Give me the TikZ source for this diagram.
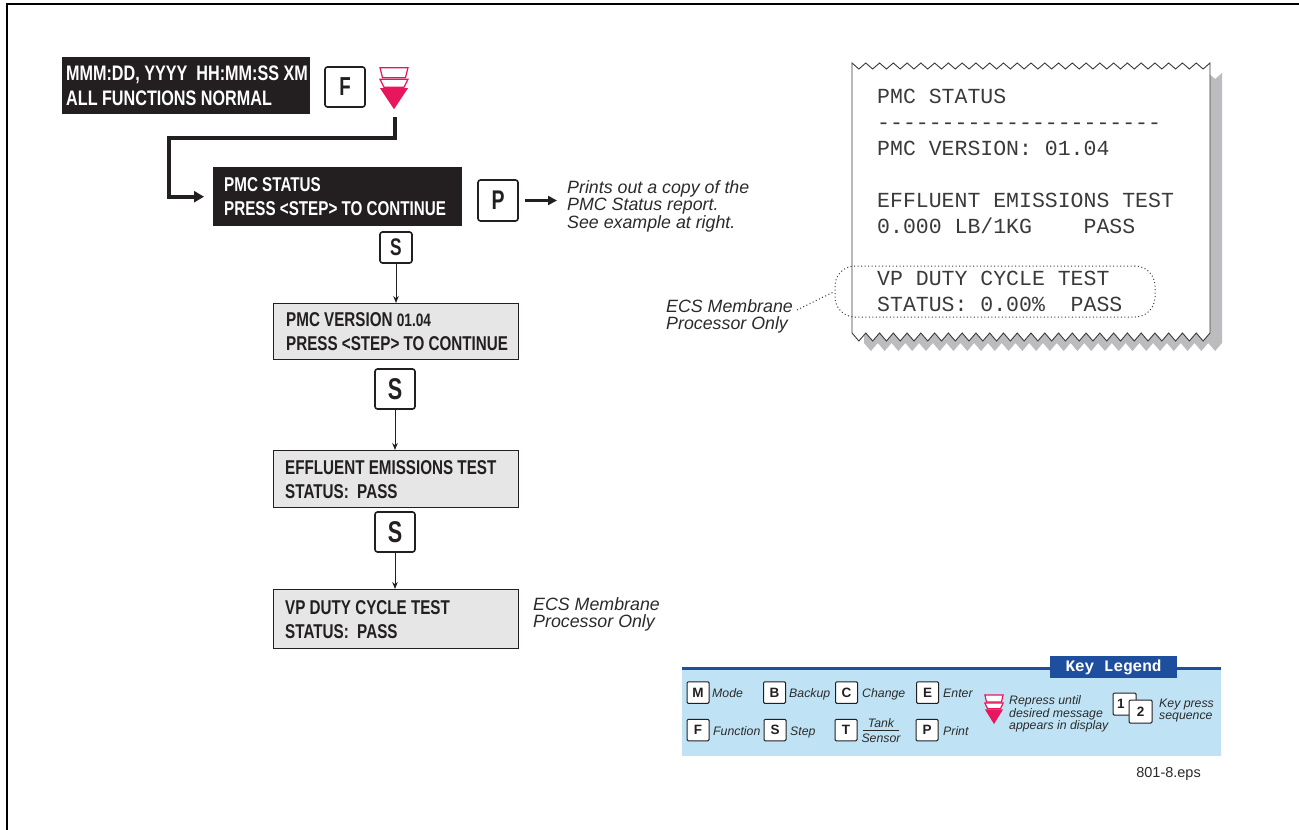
\documentclass[tikz,border=0pt]{standalone}
\usepackage{fontspec}
\setmainfont{Liberation Sans}
\setmonofont{Liberation Mono}
\newfontfamily\condA[FakeStretch=0.77]{Liberation Sans}
\newfontfamily\condB[FakeStretch=0.76]{Liberation Sans}
\newfontfamily\condK[FakeStretch=0.72]{Liberation Sans}
\usetikzlibrary{arrows.meta}
\definecolor{ink}{HTML}{231F20}
\definecolor{pinkred}{HTML}{E8175D}
\definecolor{screengray}{HTML}{E6E6E6}
\definecolor{legblue}{HTML}{BFE3F5}
\definecolor{darkblue}{HTML}{1E4E9E}
\definecolor{paperink}{HTML}{3A3A3A}
\definecolor{shadowgray}{HTML}{BCBCBE}
\definecolor{labelgray}{HTML}{2B2B2B}
\tikzset{
  repress/.pic={
    \draw[pinkred, line width=1.2pt, fill=white] (-14,0) -- (14,0) -- (11.5,10) -- (-11.5,10) -- cycle;
    \draw[pinkred, line width=1.2pt, fill=white] (-14,11.5) -- (14,11.5) -- (10,19.5) -- (-10,19.5) -- cycle;
    \fill[pinkred] (-14,20.5) -- (14,20.5) -- (0,41.5) -- cycle;
  }
}
\begin{document}
\begin{tikzpicture}[x=1pt,y=-1pt,
  screenfont/.style={font=\condB\bfseries\fontsize{20}{24}\selectfont},
  darkscreen/.style={fill=ink, draw=none, inner sep=0pt, anchor=north west},
  lightscreen/.style={fill=screengray, draw=ink, line width=1.4pt, inner sep=0pt, anchor=north west},
  scrtext/.style={anchor=west, align=left, inner sep=0pt, screenfont},
  keybox/.style={draw=ink, line width=1.6pt, rounded corners=2.5pt, fill=white, inner sep=0pt, text=ink,
     font=\condK\bfseries\fontsize{#1}{#1}\selectfont},
  lkey/.style={draw=ink, line width=1pt, rounded corners=1.2pt, fill=white, inner sep=0pt, text=ink,
     minimum width=22pt, minimum height=21.5pt, font=\bfseries\fontsize{13.5}{13.5}\selectfont},
  ltxt/.style={anchor=base west, inner sep=0pt, text=labelgray, font=\itshape\fontsize{12.3}{12.3}\selectfont},
  note/.style={anchor=base west, inner sep=0pt, text=labelgray, font=\itshape\fontsize{17.8}{17.8}\selectfont},
  rcpt/.style={anchor=base west, inner sep=0pt, text=paperink, font=\ttfamily\fontsize{21.5}{21.5}\selectfont},
  thinarrow/.style={draw=ink, line width=0.9pt, -{Stealth[length=7pt,width=5.5pt]}},
  fatline/.style={draw=ink, line width=4pt, -{Triangle[length=10pt,width=11pt]}},
  pline/.style={draw=ink, line width=3pt, -{Triangle[length=9pt,width=9pt]}},
  leader/.style={draw=paperink, line width=1pt, dash pattern=on 1pt off 2.5pt}
]
\useasboundingbox (0,0) rectangle (1299,830);
\fill[white] (0,0) rectangle (1299,830);
% frame
\draw[black, line width=2pt] (7,830) -- (7,4) -- (1299,4);

% ---- top screen
\node[darkscreen, minimum width=248pt, minimum height=57pt] (b1) at (62,57) {};
\node[anchor=west, align=left, inner sep=0pt, text=white, font=\condA\bfseries\fontsize{21}{25}\selectfont] (b1t) at ([xshift=4pt]b1.west)
  {MMM:DD, YYYY\ \ HH:MM:SS XM\\ALL FUNCTIONS NORMAL};
\node[keybox=26, minimum width=40pt, minimum height=40pt] (kF) at (345,87) {F};
\pic (rp) at (394,67.7) {repress};
\coordinate (repbot) at (395,117);

% ---- PMC status screen
\node[darkscreen, minimum width=249pt, minimum height=59pt] (b2) at (213,167) {};
\node[scrtext, text=white] (b2t) at ([xshift=11pt]b2.west) {PMC STATUS\\PRESS <STEP> TO CONTINUE};
\draw[fatline, shorten >=9pt] (repbot) |- (169,138) |- (b2.west);

\node[keybox=27, minimum width=40pt, minimum height=41pt] (kP) at (498,200.5) {P};
\coordinate (parrow) at (557,200.5);
\draw[pline, shorten <=6pt] (kP.east) -- (parrow);
\node[note] (pr1) at (567,193.3) {Prints out a copy of the};
\node[note] (pr2) at (567,210.8) {PMC Status report.};
\node[note] (pr3) at (567,228.3) {See example at right.};

\node[keybox=24, minimum width=32pt, minimum height=31pt] (s1) at (396,247.5) {S};

% ---- PMC version
\node[lightscreen, minimum width=245pt, minimum height=56pt] (b3) at (273,303) {};
\node[scrtext, text=ink] (b3t) at ([xshift=13pt]b3.west) {PMC VERSION {\fontsize{18}{24}\selectfont 01.04}\\PRESS <STEP> TO CONTINUE};
\draw[thinarrow] (s1.south) -- (s1.south |- b3.north);

\node[keybox=30, minimum width=40pt, minimum height=40pt] (s2) at (395,389) {S};
% ---- effluent
\node[lightscreen, minimum width=245pt, minimum height=57pt] (b4) at (273,450) {};
\node[scrtext, text=ink] (b4t) at ([xshift=12pt]b4.west) {EFFLUENT EMISSIONS TEST\\STATUS:\ \ PASS};
\draw[thinarrow] (s2.south) -- (s2.south |- b4.north);

\node[keybox=30, minimum width=40pt, minimum height=40pt] (s3) at (395,532) {S};

% ---- VP duty
\node[lightscreen, minimum width=245pt, minimum height=59pt] (b5) at (273,589) {};
\node[scrtext, text=ink] (b5t) at ([xshift=12pt]b5.west) {VP DUTY CYCLE TEST\\STATUS:\ \ PASS};
\draw[thinarrow] (s3.south) -- (s3.south |- b5.north);

\node[note] (ecs2a) at (533,610) {ECS Membrane};
\node[note] (ecs2b) at (533,627) {Processor Only};

% ---- receipt
\fill[shadowgray] (864,73) \foreach \i in {1,...,26}{ -- ({864+(\i-0.5)*13.769},79) -- ({864+\i*13.769},73)}
  -- (1222,343) \foreach \i in {1,...,26}{ -- ({1222-(\i-0.5)*13.769},351) -- ({1222-\i*13.769},343)} -- cycle;
\filldraw[fill=white, draw=paperink, line width=0.9pt] (852,63) \foreach \i in {1,...,26}{ -- ({852+(\i-0.5)*13.769},69) -- ({852+\i*13.769},63)}
  -- (1210,333) \foreach \i in {1,...,26}{ -- ({1210-(\i-0.5)*13.769},341) -- ({1210-\i*13.769},333)} -- cycle;

\node[rcpt] (r1) at (877,103) {PMC STATUS};
\node[rcpt] (r2) at (877,129) {----------------------};
\node[rcpt] (r3) at (877,155) {PMC VERSION: 01.04};
\node[rcpt] (r4) at (877,207) {EFFLUENT EMISSIONS TEST};
\node[rcpt] (r5) at (877,233) {0.000 LB/1KG\ \ \ \ PASS};
\node[rcpt] (r6) at (877,285) {VP DUTY CYCLE TEST};
\node[rcpt] (r7) at (877,311) {STATUS: 0.00\%\ \ PASS};

\node[draw=paperink, line width=1pt, dash pattern=on 1pt off 2.5pt, rounded corners=20pt,
      minimum width=320pt, minimum height=51pt, inner sep=0pt] (vpgroup) at (995,291.5) {};

\node[note] (ecs1a) at (666,312) {ECS Membrane};
\node[note] (ecs1b) at (666,329) {Processor Only};
\coordinate (ecsdot) at (797,310);
\draw[leader] (ecsdot) -- (vpgroup.west);

% ---- legend
\node[fill=legblue, inner sep=0pt, minimum width=539pt, minimum height=88pt, anchor=north west] (legend) at (682,668) {};
\draw[darkblue, line width=3pt] (legend.north west) -- (legend.north east);
\node[fill=darkblue, inner sep=0pt, minimum width=127pt, minimum height=22pt, text=white,
      font=\ttfamily\bfseries\fontsize{16}{16}\selectfont] (tab) at (1113.5,667) {Key Legend};

\node[lkey] (lM) at (698,692.5) {M};
\node[ltxt] (tM) at (712,697) {Mode};
\node[lkey] (lB) at (774.5,692.5) {B};
\node[ltxt] (tB) at (789,697) {Backup};
\node[lkey] (lC) at (846.5,692.5) {C};
\node[ltxt] (tC) at (862,697) {Change};
\node[lkey] (lE) at (927.5,692.5) {E};
\node[ltxt] (tE) at (943,697) {Enter};

\node[lkey] (lF) at (698,730) {F};
\node[ltxt] (tF) at (713,735) {Function};
\node[lkey] (lS) at (775,730) {S};
\node[ltxt] (tS) at (790,735) {Step};
\node[lkey] (lT) at (846,730) {T};
\node[anchor=base, inner sep=0pt, text=labelgray, font=\itshape\fontsize{12.3}{12.3}\selectfont] (tT1) at (881,727) {Tank};
\node[anchor=base, inner sep=0pt, text=labelgray, font=\itshape\fontsize{12.3}{12.3}\selectfont] (tT2) at (881,742) {Sensor};
\draw[labelgray, line width=0.7pt] (863,730) -- (899,730);
\node[lkey] (lP) at (927,730) {P};
\node[ltxt] (tP) at (943,735) {Print};

\pic[xscale=0.65, yscale=0.7] (rpl) at (994,695) {repress};
\node[ltxt] (tr1) at (1009,704.5) {Repress until};
\node[ltxt] (tr2) at (1009,717) {desired message};
\node[ltxt] (tr3) at (1009,729.5) {appears in display};

\node[lkey, minimum width=23pt, minimum height=22pt] (k1) at (1124.5,704) {\makebox[23pt][l]{\hspace{4pt}1}};
\node[lkey, minimum width=23pt, minimum height=23pt] (k2) at (1140.5,711.5) {2};
\node[ltxt] (tk1) at (1159,707) {Key press};
\node[ltxt] (tk2) at (1159,719.5) {sequence};

\node[anchor=base east, inner sep=0pt, text=labelgray, font=\fontsize{14.5}{14.5}\selectfont] (eps) at (1201,777) {801-8.eps};
\end{tikzpicture}
\end{document}
